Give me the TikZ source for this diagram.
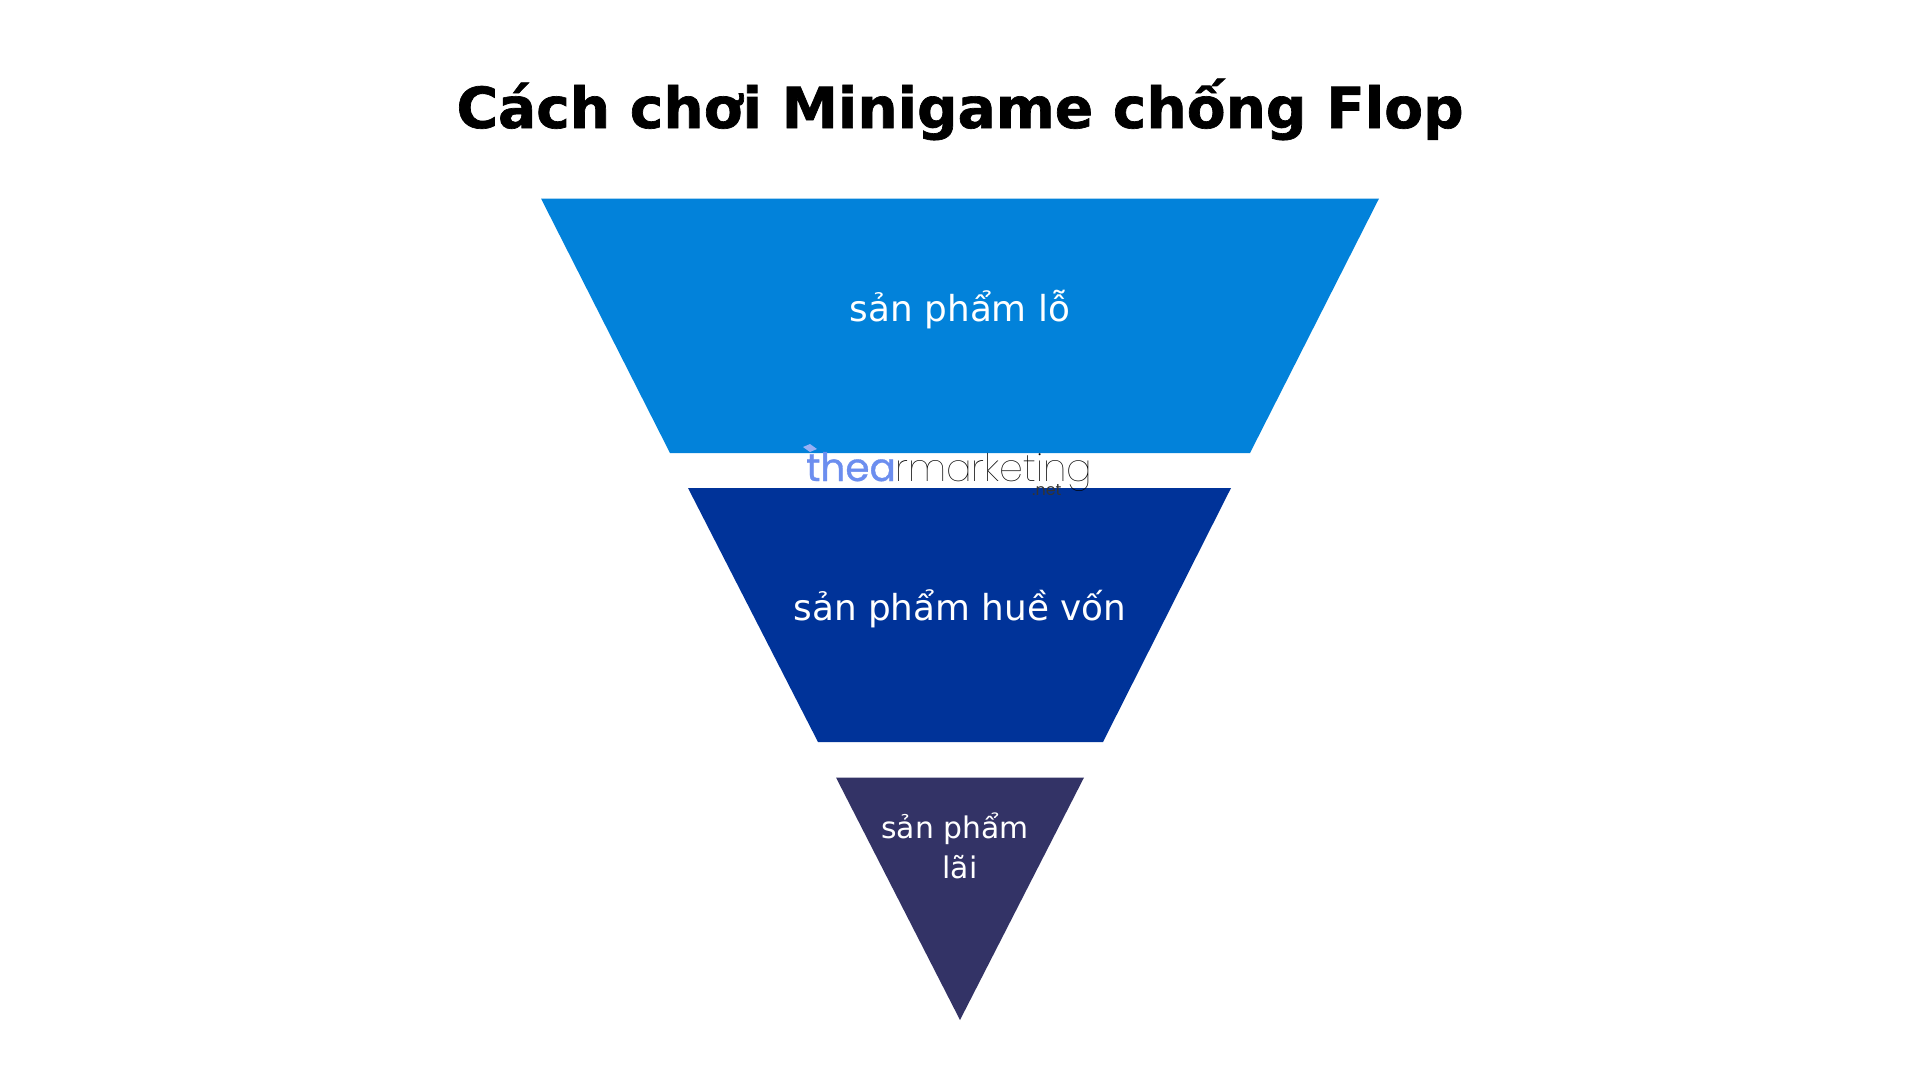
\documentclass[tikz,border=0pt]{standalone}
\usepackage{fontspec}
\setmainfont{DejaVu Sans}
\newfontfamily\titlefont{DejaVu Sans}[UprightFont=* Bold,FakeBold=1.2]
\newfontfamily\logobold{Poppins}[FakeBold=0.8]
\newfontfamily\lognet{Poppins}
\newfontfamily\logothin{Poppins Thin}
\definecolor{bandA}{HTML}{0282DA}
\definecolor{bandB}{HTML}{003399}
\definecolor{bandC}{HTML}{333366}
\definecolor{logoblue}{HTML}{6C8EEF}
\tikzset{x=1pt,y=-1pt,
  label/.style={text=white,inner sep=0pt,anchor=base,font=\fontsize{35.8}{36}\selectfont},
  smalllabel/.style={text=white,inner sep=0pt,anchor=base,font=\fontsize{29.8}{30}\selectfont}}
\begin{document}
\begin{tikzpicture}
\useasboundingbox (0,0) rectangle (1920,1080);
\fill[white] (0,0) rectangle (1920,1080);
\node[inner sep=0pt,anchor=base] (title) at (960,128) {\titlefont\fontsize{56.6}{57}\selectfont Cách chơi Minigame chống Flop};
\fill[bandA] (541,198.5) -- (1379,198.5) -- (1250,453) -- (670,453) -- cycle;
\fill[bandB] (688,488) -- (1231,488) -- (1103,742) -- (818,742) -- cycle;
\fill[bandC] (836,777.5) -- (1084,777.5) -- (960,1020) -- cycle;
\node[label] (a) at (960,321) {sản phẩm lỗ};
\node[label] (b) at (960,620) {sản phẩm huề vốn};
\node[smalllabel] (c1) at (955,838) {sản phẩm};
\node[smalllabel] (c2) at (960,878) {lãi};
% logo
\fill[logoblue!70] (803,447) -- (810,444) -- (817,449) -- (810,452) -- cycle;
\node[inner sep=0pt,anchor=base west,text=logoblue] (l1) at (806,481) {\logobold\fontsize{39}{39}\selectfont thea};
\node[inner sep=0pt,anchor=base west,text=black] (l2) at (895,481) {\logothin\fontsize{38}{38}\selectfont rmarketing};
\node[inner sep=0pt,anchor=base west,text=black!80] (l3) at (1032,495) {\lognet\fontsize{16}{16}\selectfont .net};
\end{tikzpicture}
\end{document}
